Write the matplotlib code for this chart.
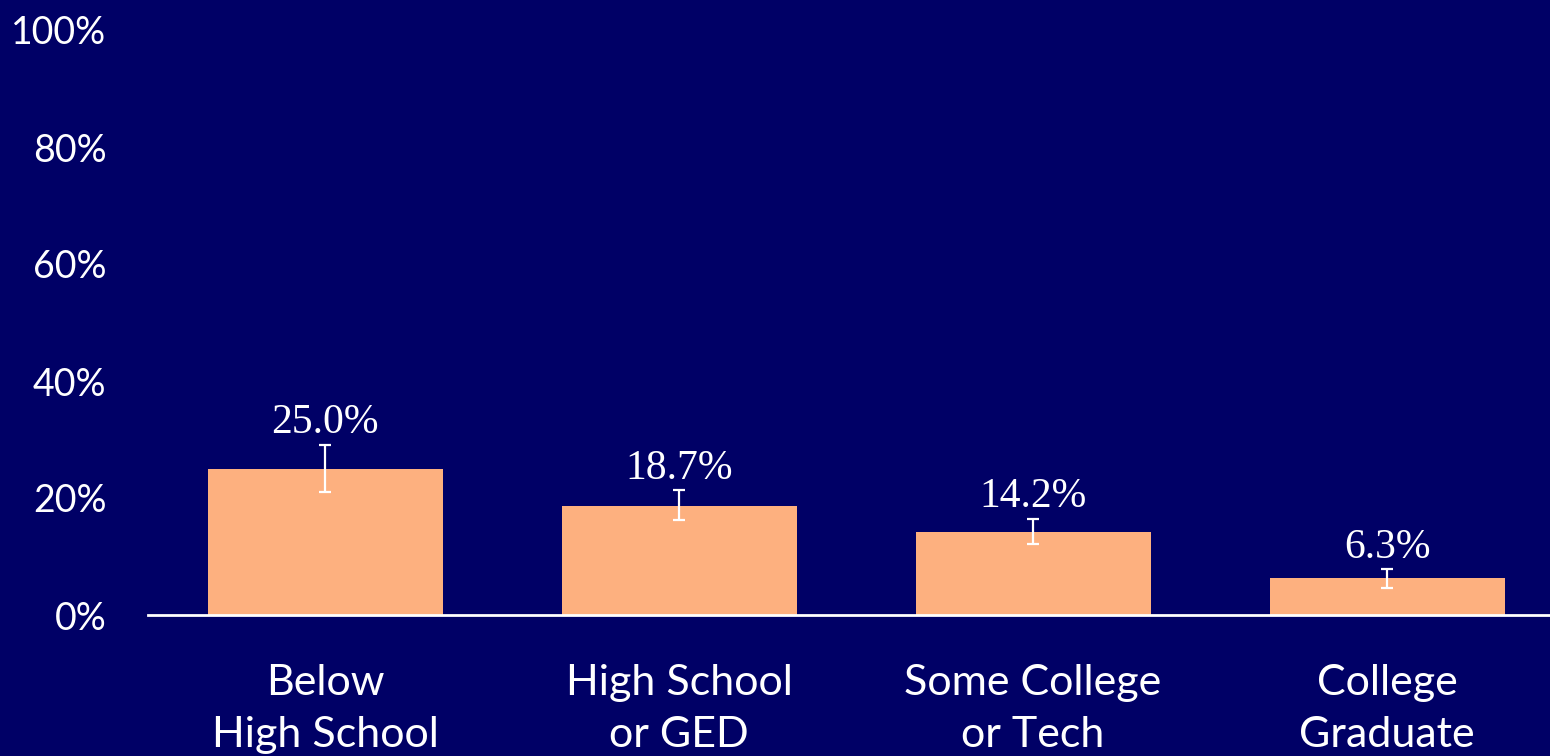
import numpy as np
import matplotlib.pyplot as plt

# Data
categories = ['Below\nHigh School', 'High School\nor GED', 'Some College\nor Tech', 'College\nGraduate']
values = [25.0, 18.7, 14.2, 6.3]
ci_low = [21.1, 16.2, 12.1, 4.7]
ci_high = [29.1, 21.3, 16.4, 7.8]
value_labels = ['25.0%', '18.7%', '14.2%', '6.3%']
y_ticks = [0, 20, 40, 60, 80, 100]

bg = '#000066'
bar_color = '#FDB07F'

fig = plt.figure(figsize=(15.5, 7.56), dpi=100, facecolor=bg)
W, H = 1550, 756
ax = fig.add_axes([148 / W, 141 / H, 1416 / W, 585 / H])
ax.set_facecolor(bg)

x = np.arange(len(categories))
vals = np.array(values)
yerr = np.array([vals - np.array(ci_low), np.array(ci_high) - vals])

ax.bar(x, vals, width=235 / 354, color=bar_color, zorder=2)
ax.errorbar(x, vals, yerr=yerr, fmt='none', ecolor='white', elinewidth=1.6,
            capsize=4.5, capthick=1.6, zorder=3)

for xi, top, lab in zip(x, ci_high, value_labels):
    ax.annotate(lab, (xi, top), xytext=(0, 2), textcoords='offset points',
                ha='center', va='bottom', color='white', fontsize=30,
                family='Liberation Serif')

ax.set_xlim(-0.5, len(categories) - 0.5)
ax.set_ylim(0, 100)
ax.set_yticks(y_ticks)
ax.set_yticklabels([f'{t}%' for t in y_ticks], family='Lato', fontsize=27, color='white')
ax.set_xticks(x)
ax.set_xticklabels(categories, family='Lato', fontsize=31, color='white', linespacing=1.45)
ax.tick_params(axis='both', length=0)
ax.tick_params(axis='x', pad=35)
ax.tick_params(axis='y', pad=30)

for s in ['top', 'right', 'left']:
    ax.spines[s].set_visible(False)
ax.spines['bottom'].set_color('white')
ax.spines['bottom'].set_linewidth(2)

fig.savefig('out.png', dpi=100, facecolor=bg)
